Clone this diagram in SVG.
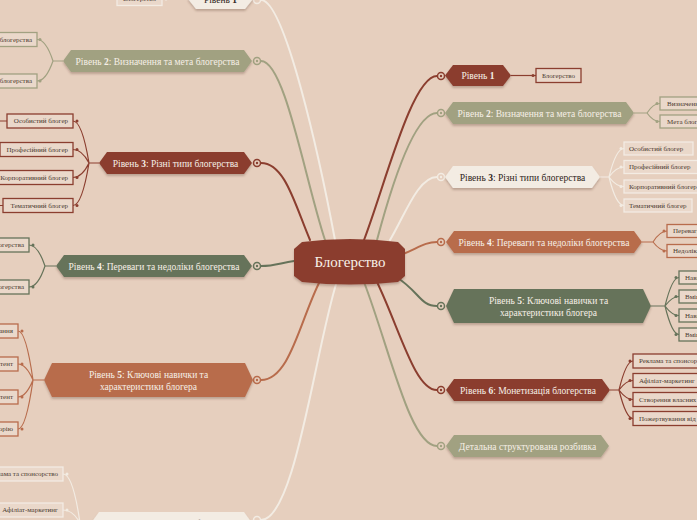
<svg xmlns="http://www.w3.org/2000/svg" width="697" height="520" viewBox="0 0 697 520">
<style>
.bg{fill:#E6CFBE}
.t{font-family:"Liberation Serif","DejaVu Serif",serif;font-size:9.5px;text-anchor:middle}
.lt{fill:#F6EFE6}
.dk{fill:#2E2420}
.c{font-family:"Liberation Serif","DejaVu Serif",serif;font-size:7px;fill:#4A3A30}
.s{text-anchor:start}
.e{text-anchor:end}
.m{text-anchor:middle}
.b{font-weight:bold}
.box{fill:#EAD8CA;stroke-width:1.3}
.red{fill:#8B3E2F}.ol{fill:#A1A181}.cr{fill:#F3ECE3}.tc{fill:#B86C4C}.gr{fill:#66735A}
.sred{stroke:#8B3E2F}.sol{stroke:#A1A181}.scr{stroke:#F3ECE3}.stc{stroke:#B86C4C}.sgr{stroke:#66735A}
.main{fill:none;stroke-width:2;stroke-linecap:round}
.sub{fill:none;stroke-width:1.2}
.ring{fill:#E6CFBE;stroke-width:1.5}
</style>
<defs>
<filter id="sh" x="-10%" y="-30%" width="120%" height="170%">
<feDropShadow dx="0" dy="2" stdDeviation="1.2" flood-color="#5a3a2a" flood-opacity="0.3"/>
</filter>
</defs>
<rect class="bg" x="0" y="0" width="697" height="520"/>

<g id="connectors">
<path class="main sred" d="M364,240 C385,185 412,76 437,76"/>
<path class="main sol" d="M377,240 C393,180 415,113 437,113"/>
<path class="main scr" d="M390,240 C405,215 418,177 437,177"/>
<path class="main stc" d="M403,254 C418,248 425,242 437,242"/>
<path class="main sgr" d="M395,276 C420,292 420,306 437,306"/>
<path class="main sred" d="M377,282 C400,330 415,390 437,390"/>
<path class="main sol" d="M364,282 C390,350 410,446 437,446"/>
<path class="main scr" d="M335,240 C320,160 285,0 261,0"/>
<path class="main sol" d="M325,240 C305,180 285,61 261,61"/>
<path class="main sred" d="M310,240 C295,205 285,163 261,163"/>
<path class="main sgr" d="M294,261 C280,263 275,266 261,266"/>
<path class="main stc" d="M320,281 C300,320 290,380 261,380"/>
<path class="main scr" d="M337,281 C315,350 295,520 261,520"/>
<g class="ring">
<circle class="sred" cx="441" cy="76" r="3.5"/><circle cx="441" cy="76" r="1.2" class="red"/>
<circle class="sol" cx="441" cy="113" r="3.5"/><circle cx="441" cy="113" r="1.2" class="ol"/>
<circle class="scr" cx="441" cy="177" r="3.5"/><circle cx="441" cy="177" r="1.2" class="cr"/>
<circle class="stc" cx="441" cy="242" r="3.5"/><circle cx="441" cy="242" r="1.2" class="tc"/>
<circle class="sgr" cx="441" cy="306" r="3.5"/><circle cx="441" cy="306" r="1.2" class="gr"/>
<circle class="sred" cx="441" cy="390" r="3.5"/><circle cx="441" cy="390" r="1.2" class="red"/>
<circle class="sol" cx="441" cy="446" r="3.5"/><circle cx="441" cy="446" r="1.2" class="ol"/>
<circle class="scr" cx="257" cy="0" r="3.5"/>
<circle class="sol" cx="257" cy="61" r="3.5"/><circle cx="257" cy="61" r="1.2" class="ol"/>
<circle class="sred" cx="257" cy="163" r="3.5"/><circle cx="257" cy="163" r="1.2" class="red"/>
<circle class="sgr" cx="257" cy="266" r="3.5"/><circle cx="257" cy="266" r="1.2" class="gr"/>
<circle class="stc" cx="257" cy="380" r="3.5"/><circle cx="257" cy="380" r="1.2" class="tc"/>
<circle class="scr" cx="257" cy="520" r="3.5"/>
</g>
<path class="sub sred" d="M511,75.5 L536,75.5"/><circle cx="533" cy="75.5" r="1.5" class="red"/>
<path class="sub sol" d="M634,113 L647,113 Q653,103.5 660,103.5 M647,113 Q653,121.5 660,121.5"/>
<g class="ol"><circle cx="657" cy="103.5" r="1.5"/><circle cx="657" cy="121.5" r="1.5"/></g>
<path class="sub scr" d="M600,177 L609,177 Q616,148.5 624,148.5 M609,177 Q616,167 624,167 M609,177 Q616,186.5 624,186.5 M609,177 Q616,205.5 624,205.5"/>
<g class="cr"><circle cx="621" cy="148.5" r="1.5"/><circle cx="621" cy="167" r="1.5"/><circle cx="621" cy="186.5" r="1.5"/><circle cx="621" cy="205.5" r="1.5"/></g>
<path class="sub stc" d="M642,242 L653,242 Q660,231 667,231 M653,242 Q660,251 667,251"/>
<g class="tc"><circle cx="664" cy="231" r="1.5"/><circle cx="664" cy="251" r="1.5"/></g>
<path class="sub sgr" d="M651,306 L665,306 Q672,277.5 679,277.5 M665,306 Q672,296.5 679,296.5 M665,306 Q672,315.5 679,315.5 M665,306 Q672,334.5 679,334.5"/>
<g class="gr"><circle cx="676" cy="277.5" r="1.5"/><circle cx="676" cy="296.5" r="1.5"/><circle cx="676" cy="315.5" r="1.5"/><circle cx="676" cy="334.5" r="1.5"/></g>
<path class="sub sred" d="M610,390 L619,390 Q626,361 633,361 M619,390 Q626,380.5 633,380.5 M619,390 Q626,399.5 633,399.5 M619,390 Q626,418.5 633,418.5"/>
<g class="red"><circle cx="630" cy="361" r="1.5"/><circle cx="630" cy="380.5" r="1.5"/><circle cx="630" cy="399.5" r="1.5"/><circle cx="630" cy="418.5" r="1.5"/></g>
<path class="sub scr" d="M188,-1 L162,-1"/><circle cx="166" cy="-1" r="1.5" class="cr"/>
<path class="sub sol" d="M63,61 L53,61 Q46,39.5 37,39.5 M53,61 Q46,81 37,81"/>
<g class="ol"><circle cx="40" cy="39.5" r="1.5"/><circle cx="40" cy="81" r="1.5"/></g>
<path class="sub sred" d="M99,163 L89,163 Q82,121 73,121 M89,163 Q82,149.5 73,149.5 M89,163 Q82,177.5 73,177.5 M89,163 Q82,205.5 73,205.5 M0,121 L7,121 M0,205.5 L3,205.5"/>
<g class="red"><circle cx="77" cy="121" r="1.5"/><circle cx="77" cy="149.5" r="1.5"/><circle cx="77" cy="177.5" r="1.5"/><circle cx="77" cy="205.5" r="1.5"/></g>
<path class="sub sgr" d="M56,266 L45,266 Q38,245 29,245 M45,266 Q38,287 29,287"/>
<g class="gr"><circle cx="33" cy="245" r="1.5"/><circle cx="33" cy="287" r="1.5"/></g>
<path class="sub stc" d="M44,380 L33,380 Q26,331 18,331 M33,380 Q26,364 18,364 M33,380 Q26,397 18,397 M33,380 Q26,429 18,429"/>
<g class="tc"><circle cx="22" cy="331" r="1.5"/><circle cx="22" cy="364" r="1.5"/><circle cx="22" cy="397" r="1.5"/><circle cx="22" cy="429" r="1.5"/></g>
<path class="sub scr" d="M91,523 L80,523 Q73,474 63,474 M80,523 Q73,510 63,510"/>
<g class="cr"><circle cx="67" cy="474" r="1.5"/><circle cx="67" cy="510" r="1.5"/></g>
</g>

<g id="center">
<path class="red" filter="url(#sh)" d="M302,242 Q350,236 398,242 L405,249 L405,276 L398,282 Q350,287 302,282 L294,276 L294,249 Z"/>
<text x="350" y="267" font-family="Liberation Serif,DejaVu Serif,serif" font-size="15" fill="#F8F1E9" text-anchor="middle">Блогерство</text>
</g>

<g id="r1">
<polygon class="red" filter="url(#sh)" points="453,65 503,65 511,75.5 503,86 453,86 445,75.5"/>
<text class="t lt" x="478" y="79">Рівень <tspan class="b">1</tspan></text>
<rect class="box sred" x="536" y="68.5" width="45" height="14"/>
<text class="c m" x="558.5" y="77.8">Блогерство</text>
</g>
<g id="r2">
<polygon class="ol" filter="url(#sh)" points="453,102 626,102 634,113 626,124 453,124 445,113"/>
<text class="t lt" x="539.5" y="116.5">Рівень <tspan class="b">2</tspan>: Визначення та мета блогерства</text>
<rect class="box sol" x="660" y="97" width="85" height="13"/>
<text class="c s" x="667" y="105.8">Визначення блогерства</text>
<rect class="box sol" x="660" y="115" width="70" height="13"/>
<text class="c s" x="667" y="123.8">Мета блогерства</text>
</g>
<g id="r3">
<polygon class="cr" filter="url(#sh)" points="453,166 592,166 600,177 592,188 453,188 445,177"/>
<text class="t dk" x="522.5" y="180.5">Рівень <tspan class="b">3</tspan>: Різні типи блогерства</text>
<rect class="box scr" x="624" y="142" width="69" height="13"/>
<text class="c s" x="629" y="150.8">Особистий блогер</text>
<rect class="box scr" x="624" y="160.5" width="78" height="13"/>
<text class="c s" x="629" y="169.3">Професійний блогер</text>
<rect class="box scr" x="624" y="180" width="84" height="13"/>
<text class="c s" x="629" y="188.8">Корпоративний блогер</text>
<rect class="box scr" x="624" y="199" width="68" height="13"/>
<text class="c s" x="629" y="207.8">Тематичний блогер</text>
</g>
<g id="r4">
<polygon class="tc" filter="url(#sh)" points="454,231 634,231 642,242 634,253 454,253 446,242"/>
<text class="t lt" x="544" y="245.5">Рівень <tspan class="b">4</tspan>: Переваги та недоліки блогерства</text>
<rect class="box stc" x="667" y="224.5" width="75" height="13"/>
<text class="c s" x="673" y="233.3">Переваги блогерства</text>
<rect class="box stc" x="667" y="244.5" width="75" height="13"/>
<text class="c s" x="673" y="253.3">Недоліки блогерства</text>
</g>
<g id="r5">
<polygon class="gr" filter="url(#sh)" points="454,289 643,289 651,306 643,323 454,323 446,306"/>
<text class="t lt" x="548.5" y="304">Рівень <tspan class="b">5</tspan>: Ключові навички та</text>
<text class="t lt" x="548.5" y="316">характеристики блогера</text>
<rect class="box sgr" x="679" y="271" width="80" height="13"/>
<text class="c s" x="685" y="279.8">Навички спілкування</text>
<rect class="box sgr" x="679" y="290" width="80" height="13"/>
<text class="c s" x="685" y="298.8">Вміння створювати контент</text>
<rect class="box sgr" x="679" y="309" width="80" height="13"/>
<text class="c s" x="685" y="317.8">Навички просувати контент</text>
<rect class="box sgr" x="679" y="328" width="80" height="13"/>
<text class="c s" x="685" y="336.8">Вміння аналізувати аудиторію</text>
</g>
<g id="r6">
<polygon class="red" filter="url(#sh)" points="454,379 602,379 610,390 602,401 454,401 446,390"/>
<text class="t lt" x="528" y="393.5">Рівень <tspan class="b">6</tspan>: Монетизація блогерства</text>
<rect class="box sred" x="633" y="354" width="90" height="14"/>
<text class="c s" x="639" y="363.3">Реклама та спонсорство</text>
<rect class="box sred" x="633" y="373.5" width="90" height="14"/>
<text class="c s" x="639" y="382.8">Афіліат-маркетинг</text>
<rect class="box sred" x="633" y="392.5" width="90" height="14"/>
<text class="c s" x="639" y="401.8">Створення власних продуктів</text>
<rect class="box sred" x="633" y="411.5" width="90" height="14"/>
<text class="c s" x="639" y="420.8">Пожертвування від аудиторії</text>
</g>
<g id="r7">
<polygon class="ol" filter="url(#sh)" points="454,435 601,435 609,446 601,457 454,457 446,446"/>
<text class="t lt" x="527.5" y="449.5">Детальна структурована розбивка</text>
</g>

<g id="l1">
<polygon class="cr" filter="url(#sh)" points="196,-12 245,-12 253,-1 245,9 196,9 188,-1"/>
<text class="t dk" x="220.5" y="2.5">Рівень <tspan class="b">1</tspan></text>
<rect class="box scr" x="117" y="-7" width="45" height="12.5"/>
<text class="c m" x="139.5" y="1.2">Блогерство</text>
</g>
<g id="l2">
<polygon class="ol" filter="url(#sh)" points="71,50 244,50 252,61 244,72 71,72 63,61"/>
<text class="t lt" x="157.5" y="64.5">Рівень <tspan class="b">2</tspan>: Визначення та мета блогерства</text>
<rect class="box sol" x="-50" y="32.5" width="87" height="14"/>
<text class="c e" x="32" y="41.8">Визначення блогерства</text>
<rect class="box sol" x="-50" y="74" width="87" height="14"/>
<text class="c e" x="32" y="83.3">Мета блогерства</text>
</g>
<g id="l3">
<polygon class="red" filter="url(#sh)" points="107,152 244,152 252,163 244,174 107,174 99,163"/>
<text class="t lt" x="175.5" y="166.5">Рівень <tspan class="b">3</tspan>: Різні типи блогерства</text>
<rect class="box sred" x="7" y="114" width="66" height="14"/>
<text class="c e" x="68" y="123.3">Особистий блогер</text>
<rect class="box sred" x="0" y="142.5" width="73" height="14"/>
<text class="c e" x="68" y="151.8">Професійний блогер</text>
<rect class="box sred" x="-12" y="170.5" width="85" height="14"/>
<text class="c e" x="68" y="179.8">Корпоративний блогер</text>
<rect class="box sred" x="3" y="198.5" width="70" height="14"/>
<text class="c e" x="68" y="207.8">Тематичний блогер</text>
</g>
<g id="l4">
<polygon class="gr" filter="url(#sh)" points="64,255 244,255 252,266 244,277 64,277 56,266"/>
<text class="t lt" x="154" y="269.5">Рівень <tspan class="b">4</tspan>: Переваги та недоліки блогерства</text>
<rect class="box sgr" x="-60" y="238" width="89" height="14"/>
<text class="c e" x="24" y="247.3">Переваги блогерства</text>
<rect class="box sgr" x="-60" y="280" width="89" height="14"/>
<text class="c e" x="24" y="289.3">Недоліки блогерства</text>
</g>
<g id="l5">
<polygon class="tc" filter="url(#sh)" points="52,363 245,363 253,380 245,397 52,397 44,380"/>
<text class="t lt" x="148.5" y="377.5">Рівень <tspan class="b">5</tspan>: Ключові навички та</text>
<text class="t lt" x="148.5" y="389.5">характеристики блогера</text>
<rect class="box stc" x="-90" y="324" width="108" height="14"/>
<text class="c e" x="13" y="333.3">Навички спілкування</text>
<rect class="box stc" x="-90" y="357" width="108" height="14"/>
<text class="c e" x="13" y="366.3">Вміння створювати контент</text>
<rect class="box stc" x="-90" y="390" width="108" height="14"/>
<text class="c e" x="13" y="399.3">Навички просувати контент</text>
<rect class="box stc" x="-90" y="422" width="108" height="14"/>
<text class="c e" x="13" y="431.3">Вміння аналізувати аудиторію</text>
</g>
<g id="l6">
<polygon class="cr" filter="url(#sh)" points="99,512 244,512 252,523 244,534 99,534 91,523"/>
<text class="t dk" x="171.5" y="526.5">Рівень <tspan class="b">6</tspan>: Монетизація блогерства</text>
<rect class="box scr" x="-20" y="467" width="83" height="14"/>
<text class="c e" x="58" y="476.3">Реклама та спонсорство</text>
<rect class="box scr" x="-5" y="503" width="68" height="14"/>
<text class="c e" x="58" y="512.3">Афіліат-маркетинг</text>
</g>
</svg>
